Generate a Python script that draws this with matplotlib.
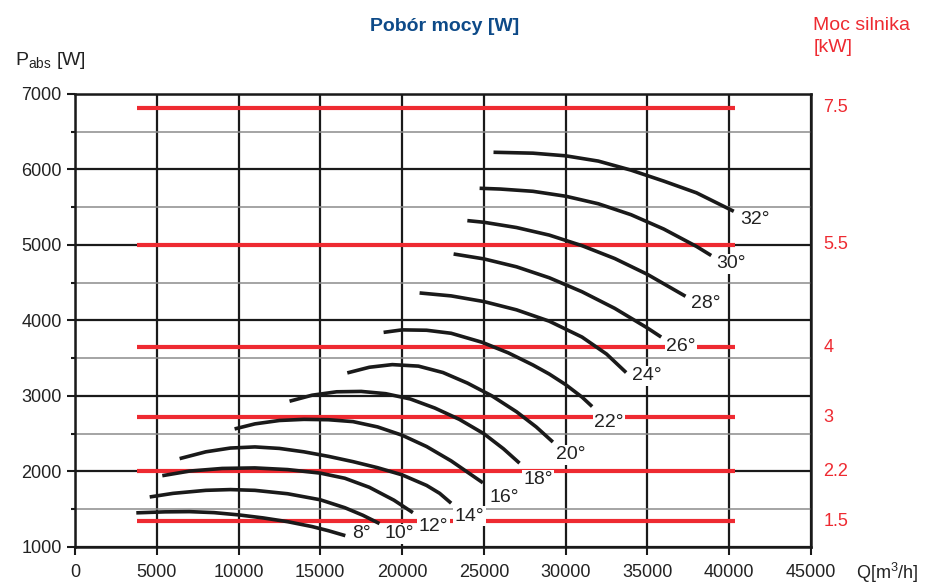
import matplotlib.pyplot as plt
from matplotlib.ticker import MultipleLocator

plt.rcParams['font.family'] = ['Liberation Sans Narrow', 'Liberation Sans', 'DejaVu Sans']

# Fan power curves, one per blade angle (Q in m3/h, P in W)
angles = ["8°", "10°", "12°", "14°", "16°", "18°", "20°", "22°", "24°", "26°", "28°", "30°", "32°"]

q_8 = [3750, 5500, 7000, 8500, 10000, 11500, 13000, 14500, 15500, 16530]
p_8 = [1452, 1465, 1468, 1455, 1425, 1385, 1335, 1270, 1215, 1150]
q_10 = [4570, 6000, 8000, 9500, 11000, 13000, 15000, 16500, 17600, 18620]
p_10 = [1662, 1710, 1750, 1760, 1750, 1705, 1625, 1520, 1420, 1310]
q_12 = [5340, 7000, 9000, 11000, 13000, 15000, 16500, 18000, 19500, 20660]
p_12 = [1944, 2005, 2040, 2047, 2025, 1978, 1910, 1790, 1620, 1455]
q_14 = [6400, 8000, 9500, 11000, 12500, 14000, 15500, 17000, 18500, 20000, 21500, 22300, 23000]
p_14 = [2170, 2260, 2310, 2325, 2305, 2260, 2200, 2130, 2050, 1955, 1815, 1710, 1580]
q_16 = [9760, 11000, 12500, 14000, 15500, 17000, 18500, 20000, 21500, 23000, 24940]
p_16 = [2563, 2630, 2675, 2690, 2685, 2660, 2590, 2480, 2330, 2140, 1850]
q_18 = [13120, 14500, 16000, 17500, 19000, 20500, 22000, 23500, 25000, 26200, 27180]
p_18 = [2930, 3010, 3055, 3060, 3030, 2960, 2840, 2690, 2500, 2300, 2110]
q_20 = [16650, 18000, 19400, 21000, 22500, 24000, 25500, 27000, 28200, 29220]
p_20 = [3305, 3380, 3415, 3395, 3310, 3170, 3000, 2790, 2590, 2390]
q_22 = [18870, 20000, 21500, 23000, 24900, 26500, 28000, 29000, 30000, 31000, 31620]
p_22 = [3842, 3875, 3870, 3830, 3710, 3570, 3410, 3290, 3150, 2985, 2860]
q_24 = [21070, 23000, 25000, 27000, 29000, 31000, 32500, 33700]
p_24 = [4364, 4325, 4250, 4140, 3990, 3780, 3555, 3310]
q_26 = [23150, 25000, 27000, 29000, 31000, 33000, 35000, 35840]
p_26 = [4880, 4815, 4710, 4565, 4380, 4160, 3900, 3780]
q_28 = [23990, 25000, 27000, 29000, 31000, 33000, 35000, 37330]
p_28 = [5322, 5300, 5230, 5130, 4990, 4820, 4610, 4320]
q_30 = [24740, 26000, 28000, 30000, 32000, 34000, 36000, 38000, 38900]
p_30 = [5750, 5740, 5710, 5645, 5545, 5400, 5210, 4980, 4860]
q_32 = [25590, 28000, 30000, 32000, 34000, 36000, 38000, 40280]
p_32 = [6227, 6215, 6180, 6110, 5990, 5845, 5690, 5445]

curves_q = [q_8, q_10, q_12, q_14, q_16, q_18, q_20, q_22, q_24, q_26, q_28, q_30, q_32]
curves_p = [p_8, p_10, p_12, p_14, p_16, p_18, p_20, p_22, p_24, p_26, p_28, p_30, p_32]

# where each angle label sits
label_q = [17500, 19850, 21930, 24120, 26220, 28300, 30340, 32640, 34990, 37060, 38590, 40120, 41550]
label_p = [1185, 1172, 1272, 1405, 1649, 1890, 2222, 2650, 3269, 3657, 4222, 4752, 5335]

# motor power classes (kW) and the absorbed power level they stand for (W)
motor_kw = ["7.5", "5.5", "4", "3", "2.2", "1.5"]
motor_w = [6815, 5000, 3645, 2715, 2000, 1340]
motor_q_range = [3770, 40340]

RED = "#ee2a31"
BLUE = "#0d4a88"

fig = plt.figure(figsize=(9.37, 5.85), dpi=100)
ax = fig.add_axes([0.080, 0.065, 0.7855, 0.7745])

ax.set_xlim(0, 45000)
ax.set_ylim(1000, 7000)
ax.xaxis.set_major_locator(MultipleLocator(5000))
ax.yaxis.set_major_locator(MultipleLocator(1000))
ax.yaxis.set_minor_locator(MultipleLocator(500))

ax.grid(which="major", color="#1a1a1a", lw=1.6, zorder=1)
ax.grid(which="minor", axis="y", color="#8c8c8c", lw=1.1, zorder=1)
for s in ax.spines.values():
    s.set_linewidth(1.8)
    s.set_color("#1a1a1a")

ax.tick_params(axis="both", which="major", length=6, width=1.5, labelsize=13,
               color="#1a1a1a", labelcolor="#222222")
ax.tick_params(axis="x", pad=6)
ax.tick_params(axis="y", which="minor", length=3, width=1.5, color="#1a1a1a")

for kw, w in zip(motor_kw, motor_w):
    ax.plot(motor_q_range, [w, w], color=RED, lw=3.0, solid_capstyle="butt", zorder=2)
    ax.text(45750, w, kw, color=RED, fontsize=13, ha="left", va="center", clip_on=False)

for q, p in zip(curves_q, curves_p):
    ax.plot(q, p, color="#1a1a1a", lw=2.6, solid_capstyle="butt", solid_joinstyle="round", zorder=3)

for name, lq, lp in zip(angles, label_q, label_p):
    ax.text(lq, lp, name, fontsize=14, color="#222222", ha="center", va="center", zorder=4,
            bbox=dict(boxstyle="square,pad=0.08", fc="white", ec="none"))

fig.text(0.475, 0.955, "Pobór mocy [W]", color=BLUE, fontsize=14, fontweight="bold",
         ha="center", va="center")
fig.text(0.016, 0.897, r"P$_{\mathregular{abs}}$ [W]", color="#222222", fontsize=14,
         ha="left", va="center")
fig.text(0.868, 0.957, "Moc silnika", color=RED, fontsize=14, ha="left", va="center")
fig.text(0.868, 0.918, "[kW]", color=RED, fontsize=14, ha="left", va="center")
fig.text(0.914, 0.020, r"Q[m$^{\mathregular{3}}$/h]", color="#222222", fontsize=13,
         ha="left", va="center")

fig.savefig("out.png", dpi=100)
